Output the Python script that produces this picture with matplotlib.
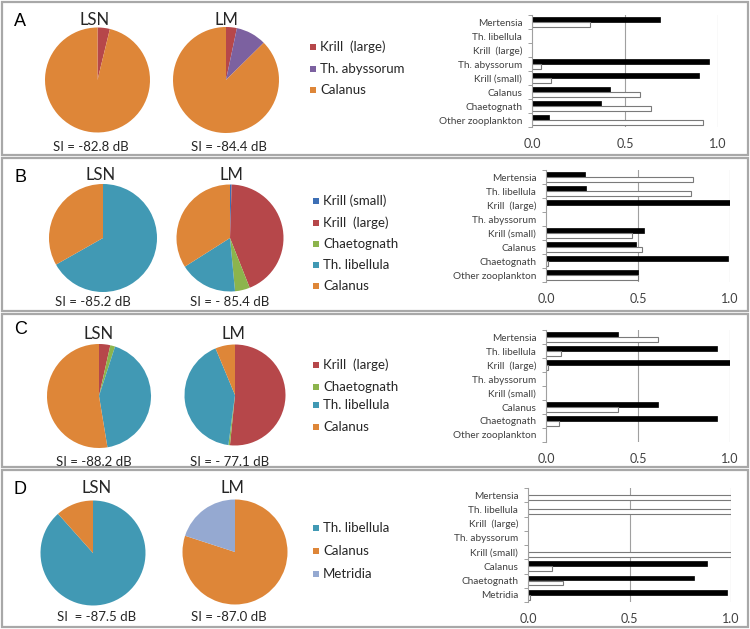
import numpy as np
import matplotlib
matplotlib.use("Agg")
import matplotlib.pyplot as plt
from matplotlib.patches import Rectangle

W, H = 750, 629

# ---------------- data ----------------
panel_letters = ['A', 'B', 'C', 'D']

species_colors = {
    'Krill (small)': '#3D6FB5',
    'Krill  (large)': '#B6474A',
    'Th. abyssorum': '#7C61A0',
    'Chaetognath': '#8CB44C',
    'Th. libellula': '#4199B4',
    'Calanus': '#DE8638',
    'Metridia': '#95A9D1',
}

# pie legends (order of slices, clockwise from 12 o'clock)
pie_species_A = ['Krill  (large)', 'Th. abyssorum', 'Calanus']
pie_LSN_A = [0.038, 0.0, 0.962]
pie_LM_A = [0.033, 0.093, 0.874]

pie_species_B = ['Krill (small)', 'Krill  (large)', 'Chaetognath', 'Th. libellula', 'Calanus']
pie_LSN_B = [0.0, 0.0, 0.0, 0.668, 0.332]
pie_LM_B = [0.005, 0.435, 0.045, 0.175, 0.340]

pie_species_C = ['Krill  (large)', 'Chaetognath', 'Th. libellula', 'Calanus']
pie_LSN_C = [0.035, 0.015, 0.424, 0.526]
pie_LM_C = [0.516, 0.005, 0.416, 0.063]

pie_species_D = ['Th. libellula', 'Calanus', 'Metridia']
pie_LSN_D = [0.884, 0.116, 0.0]
pie_LM_D = [0.0, 0.80, 0.20]

si_LSN = ['SI = -82.8 dB', 'SI = -85.2 dB', 'SI = -88.2 dB', 'SI  = -87.5 dB']
si_LM = ['SI = -84.4 dB', 'SI = - 85.4 dB', 'SI = - 77.1 dB', 'SI = -87.0 dB']

bar_cats_ABC = ['Mertensia', 'Th. libellula', 'Krill  (large)', 'Th. abyssorum',
                'Krill (small)', 'Calanus', 'Chaetognath', 'Other zooplankton']
bar_cats_D = ['Mertensia', 'Th. libellula', 'Krill  (large)', 'Th. abyssorum',
              'Krill (small)', 'Calanus', 'Chaetognath', 'Metridia']
nan = np.nan
black_A = [0.69, nan, nan, 0.95, 0.90, 0.42, 0.37, 0.09]
white_A = [0.31, nan, nan, 0.05, 0.10, 0.58, 0.64, 0.92]
black_B = [0.21, 0.22, 1.00, nan, 0.53, 0.49, 0.99, 0.50]
white_B = [0.80, 0.79, nan, nan, 0.47, 0.52, 0.01, 0.50]
black_C = [0.39, 0.93, 1.00, nan, nan, 0.61, 0.93, nan]
white_C = [0.61, 0.08, 0.01, nan, nan, 0.39, 0.07, nan]
black_D = [nan, nan, nan, nan, nan, 0.88, 0.82, 0.98]
white_D = [1.00, 1.00, nan, nan, 1.00, 0.12, 0.17, 0.01]
bar_ticks = [0.0, 0.5, 1.0]
bar_ticklabels = ['0.0', '0.5', '1.0']

# ---------------- layout (pixels) ----------------
panel_boxes = [(2, 2, 748, 155), (2, 158, 748, 311), (2, 314, 748, 467), (2, 470, 748, 627)]
letter_pos = [(20, 22), (21, 178), (21, 330), (20, 490)]
pie_geom = [  # (cx, cy, r) for LSN, LM
    ((97.5, 80, 52.5), (226, 80, 53)),
    ((103, 238, 54), (230, 238, 53.5)),
    ((99, 396, 52), (235, 395, 50.5)),
    ((93, 553, 52.5), (235, 552, 52.5)),
]
title_pos = [((95, 20), (226, 20)), ((101, 175), (231, 175)),
             ((99, 334), (233, 334)), ((97, 488), (232, 488))]
si_pos = [((91, 147), (229, 147)), ((93, 302), (230, 302)),
          ((94, 462), (230, 462)), ((97, 617), (229, 617))]
legend_rows = [[47, 69, 90], [201, 223, 244, 265, 286], [365, 387, 405, 427], [528, 551, 574]]
legend_sq_x = [310, 313, 313, 313]
bar_boxes = [(532, 15, 718, 127), (546, 170, 730, 282), (546, 330, 730, 442), (528, 488, 731, 602)]

pies = [(pie_species_A, pie_LSN_A, pie_LM_A), (pie_species_B, pie_LSN_B, pie_LM_B),
        (pie_species_C, pie_LSN_C, pie_LM_C), (pie_species_D, pie_LSN_D, pie_LM_D)]
bars = [(bar_cats_ABC, black_A, white_A), (bar_cats_ABC, black_B, white_B),
        (bar_cats_ABC, black_C, white_C), (bar_cats_D, black_D, white_D)]

fig = plt.figure(figsize=(W / 100, H / 100), dpi=100)
fig.patch.set_facecolor('white')

def fx(x):
    return x / W

def fy(y):
    return 1 - y / H

def add_ax(x0, y0, x1, y1):
    return fig.add_axes([fx(x0), fy(y1), (x1 - x0) / W, (y1 - y0) / H])

txt_font = ['Lato', 'DejaVu Sans']
txt_col = '#262626'

for i in range(4):
    x0, y0, x1, y1 = panel_boxes[i]
    fig.patches.append(Rectangle((fx(x0), fy(y1)), (x1 - x0) / W, (y1 - y0) / H,
                                 transform=fig.transFigure, fill=False,
                                 edgecolor='#A8A8A8', linewidth=1.6))
    lx, ly = letter_pos[i]
    fig.text(fx(lx), fy(ly), panel_letters[i], fontsize=13, family='Liberation Sans',
             ha='center', va='center', color='black')

    species, lsn, lm = pies[i]
    cols = [species_colors[s] for s in species]
    for j, vals in enumerate([lsn, lm]):
        cx, cy, r = pie_geom[i][j]
        ax = add_ax(cx - r, cy - r, cx + r, cy + r)
        ax.pie(vals, colors=cols, startangle=90, counterclock=False, radius=1,
               wedgeprops=dict(linewidth=0))
        ax.set_xlim(-1, 1)
        ax.set_ylim(-1, 1)
        ax.set_aspect('equal')
        ax.axis('off')
        tx, ty = title_pos[i][j]
        fig.text(fx(tx), fy(ty), ['LSN', 'LM'][j], fontsize=12, family=txt_font,
                 ha='center', va='center', color=txt_col)
        sx, sy = si_pos[i][j]
        fig.text(fx(sx), fy(sy), [si_LSN, si_LM][j][i], fontsize=9.5, family=txt_font,
                 ha='center', va='center', color=txt_col)

    # legend
    for k, s in enumerate(species):
        ry = legend_rows[i][k]
        sq = 6
        fig.patches.append(Rectangle((fx(legend_sq_x[i]), fy(ry + sq / 2)), sq / W, sq / H,
                                     transform=fig.transFigure,
                                     facecolor=species_colors[s], edgecolor='none'))
        fig.text(fx(legend_sq_x[i] + 10), fy(ry), s, fontsize=9.5, family=txt_font,
                 ha='left', va='center', color=txt_col)

    # bar chart
    cats, blk, wht = bars[i]
    bx0, by0, bx1, by1 = bar_boxes[i]
    ax = add_ax(bx0, by0, bx1, by1)
    n = len(cats)
    yy = np.arange(n)
    h = 0.33
    ax.barh(yy - 0.19, blk, height=h, color='black', edgecolor='black', linewidth=0.5)
    ax.barh(yy + 0.17, wht, height=h, color='white', edgecolor='#7A7A7A', linewidth=0.8)
    ax.set_ylim(n - 0.5, -0.5)
    ax.set_xlim(0, 1.0)
    for g in [0.5, 1.0]:
        ax.axvline(g, color='#A0A0A0', linewidth=0.8, zorder=0)
    for sp in ['top', 'right', 'bottom']:
        ax.spines[sp].set_visible(False)
    ax.spines['left'].set_color('#A0A0A0')
    ax.spines['left'].set_linewidth(0.8)
    ax.set_yticks(yy)
    ax.set_yticklabels(cats, fontsize=7.2, family=txt_font, color='#404040')
    ax.set_yticks(np.arange(n + 1) - 0.5, minor=True)
    ax.tick_params(axis='y', which='major', length=0, pad=7)
    ax.tick_params(axis='y', which='minor', length=3, color='#A0A0A0', width=0.7)
    ax.set_xticks(bar_ticks)
    ax.set_xticklabels(bar_ticklabels, fontsize=9, family=txt_font, color='#404040')
    ax.tick_params(axis='x', length=0, pad=8)
    ax.patch.set_alpha(0)

fig.savefig('out.png', dpi=100, facecolor='white')
